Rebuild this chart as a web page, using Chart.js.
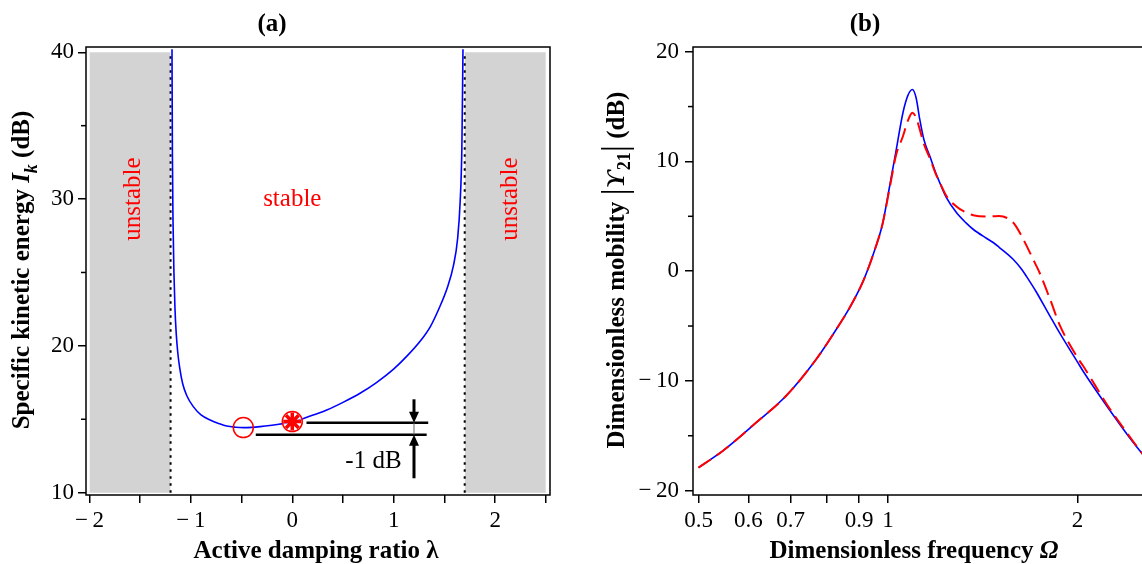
<!DOCTYPE html>
<html>
<head>
<meta charset="utf-8">
<script src="https://cdn.jsdelivr.net/npm/chart.js@4.4.1/dist/chart.umd.min.js"></script>
<style>
html, body { margin: 0; padding: 0; background: #fff; overflow: hidden; }
#wrap { position: relative; width: 1142px; height: 564px; overflow: hidden; }
#boxA { position: absolute; left: 0; top: 0; width: 580px; height: 564px; }
#boxB { position: absolute; left: 580px; top: 0; width: 566px; height: 564px; }
</style>
</head>
<body>
<div id="wrap">
  <div id="boxA"><canvas id="chartA"></canvas></div>
  <div id="boxB"><canvas id="chartB"></canvas></div>
</div>
<script>
const SERIF = '"Liberation Serif", "DejaVu Serif", serif';

// (a) specific kinetic energy vs active damping ratio
const lambdaVals = [-1.186, -1.182, -1.176, -1.167, -1.157, -1.145, -1.13, -1.11, -1.08, -1.04,
  -0.976, -0.9, -0.81, -0.72, -0.647, -0.56, -0.483, -0.40, -0.318, -0.15,
  0.01, 0.17, 0.34, 0.5, 0.668, 0.83, 0.996, 1.13, 1.27, 1.36,
  1.45, 1.53, 1.59, 1.63, 1.655, 1.672, 1.683];
const energyDb = [40.2, 33, 28.5, 25, 22.6, 20.9, 19.6, 18.5, 17.4, 16.6,
  15.86, 15.3, 14.95, 14.7, 14.54, 14.46, 14.43, 14.45, 14.5, 14.64,
  14.84, 15.2, 15.63, 16.15, 16.77, 17.5, 18.4, 19.3, 20.4, 21.3,
  22.6, 24.0, 25.5, 27.3, 29.8, 33.5, 40.2];
const asymptotes = [-1.2, 1.7];
const unstableBands = [[-2, -1.2], [1.7, 2.5]];
const bandDb = [10, 40];
const minPoint = [-0.483, 14.43];
const passivePoint = [0, 14.84];
const refLines = [[0.14, 1.34, 14.77], [-0.36, 1.325, 13.95]];
const arrowX = 1.2;
const arrowDown = [16.36, 14.77];
const arrowUp = [10.98, 13.95];
const lambdaTicks = [-2, -1.5, -1, -0.5, 0, 0.5, 1, 1.5, 2, 2.5];
const energyTicks = [10, 15, 20, 25, 30, 35, 40];

// (b) dimensionless mobility vs frequency
const omega = [0.5, 0.547, 0.618, 0.689, 0.769, 0.818, 0.869, 0.913, 0.953, 0.98,
  1.006, 1.03, 1.056, 1.075, 1.093, 1.108, 1.123, 1.14, 1.165, 1.19,
  1.208, 1.238, 1.284, 1.33, 1.365, 1.433, 1.469, 1.5, 1.58, 1.63,
  1.66, 1.72, 1.74, 1.807, 1.876, 2.016, 2.04, 2.224, 2.45, 2.54];
const mobilityBlue = [-17.9, -16.36, -13.78, -11.36, -8.03, -5.75, -3.33, -0.91, 1.97, 4.3,
  7.76, 11.0, 14.44, 16.0, 16.55, 15.8, 13.83, 12.0, 10.49, 9.0,
  8.07, 6.7, 5.34, 4.4, 3.82, 3.0, 2.61, 2.2, 1.09, 0.18,
  -0.5, -1.9, -2.4, -4.07, -5.7, -8.62, -9.1, -12.26, -15.59, -16.7];
const mobilityRed = [-17.9, -16.36, -13.78, -11.36, -8.03, -5.75, -3.33, -0.91, 1.97, 4.3,
  7.6, 10.6, 12.3, 13.7, 14.44, 14.0, 12.92, 11.6, 10.3, 8.9,
  8.1, 6.85, 5.9, 5.34, 5.1, 4.98, 5.0, 5.03, 4.43, 3.2,
  2.3, 0.48, -0.12, -2.5, -4.98, -8.2, -8.62, -12.1, -15.5, -16.7];
const omegaTicks = [0.5, 0.6, 0.7, 0.8, 0.9, 1, 2];
const omegaTickLabels = ['0.5', '0.6', '0.7', '', '0.9', '1', '2'];
const mobilityTicks = [-20, -15, -10, -5, 0, 5, 10, 15, 20];

function fmt(v) {
    return v < 0 ? '\u2212\u2009' + Math.abs(v) : String(v);
}

function richText(ctx, parts, x, y, rotate) {
    ctx.save();
    ctx.translate(x, y);
    if (rotate) ctx.rotate(-Math.PI / 2);
    ctx.textBaseline = 'alphabetic';
    ctx.textAlign = 'left';
    ctx.fillStyle = '#000';
    let w = 0;
    parts.forEach(p => { ctx.font = p.font; w += ctx.measureText(p.text).width; });
    let cx = -w / 2;
    parts.forEach(p => {
        ctx.font = p.font;
        ctx.fillText(p.text, cx, p.dy || 0);
        cx += ctx.measureText(p.text).width;
    });
    ctx.restore();
}

function pts(xs, ys) {
    return xs.map((x, i) => ({x: x, y: ys[i]}));
}

const B25 = 'bold 25px ' + SERIF;
const BI25 = 'bold italic 25px ' + SERIF;

const frameA = {
    id: 'frameA',
    afterDraw(chart) {
        const ctx = chart.ctx, a = chart.chartArea;
        const x = chart.scales.x, y = chart.scales.y;
        ctx.save();
        // minor ticks on y
        ctx.strokeStyle = '#000';
        ctx.lineWidth = 1.5;
        energyTicks.filter(v => v % 10 !== 0).forEach(v => {
            const py = y.getPixelForValue(v);
            ctx.beginPath(); ctx.moveTo(a.left - 5, py); ctx.lineTo(a.left, py); ctx.stroke();
        });
        ctx.strokeRect(a.left, a.top, a.right - a.left, a.bottom - a.top);

        // arrows
        const px = x.getPixelForValue(arrowX);
        [arrowDown, arrowUp].forEach(ar => {
            const p0 = y.getPixelForValue(ar[0]), p1 = y.getPixelForValue(ar[1]);
            const dir = Math.sign(p1 - p0);
            ctx.lineWidth = 3;
            ctx.beginPath(); ctx.moveTo(px, p0); ctx.lineTo(px, p1 - dir * 9); ctx.stroke();
            ctx.fillStyle = '#000';
            ctx.beginPath(); ctx.moveTo(px, p1); ctx.lineTo(px - 5, p1 - dir * 11); ctx.lineTo(px + 5, p1 - dir * 11);
            ctx.closePath(); ctx.fill();
        });
        ctx.lineWidth = 1;
        ctx.strokeStyle = '#666';
        ctx.beginPath();
        ctx.moveTo(px, y.getPixelForValue(arrowUp[1]));
        ctx.lineTo(px, y.getPixelForValue(arrowDown[1]));
        ctx.stroke();

        // texts
        ctx.fillStyle = '#000';
        ctx.font = '25px ' + SERIF;
        ctx.textAlign = 'center';
        ctx.textBaseline = 'middle';
        ctx.fillText('-1 dB', x.getPixelForValue(0.8), y.getPixelForValue(12.16));
        ctx.fillStyle = '#ff0000';
        ctx.fillText('stable', x.getPixelForValue(0), y.getPixelForValue(30));
        [-1.57, 2.15].forEach(l => {
            ctx.save();
            ctx.translate(x.getPixelForValue(l), y.getPixelForValue(30));
            ctx.rotate(-Math.PI / 2);
            ctx.fillText('unstable', 0, 0);
            ctx.restore();
        });

        // titles
        ctx.fillStyle = '#000';
        ctx.font = B25;
        ctx.fillText('(a)', 272, 25);
        richText(ctx, [{text: 'Active damping ratio \u03bb', font: B25}], 316, 558, false);
        richText(ctx, [
            {text: 'Specific kinetic energy ', font: B25},
            {text: 'I', font: BI25},
            {text: 'k', font: 'bold italic 18px ' + SERIF, dy: 8},
            {text: ' (dB)', font: B25}
        ], 29, 270, true);
        ctx.restore();
    }
};

const frameB = {
    id: 'frameB',
    afterDraw(chart) {
        const ctx = chart.ctx, a = chart.chartArea;
        const y = chart.scales.y;
        ctx.save();
        ctx.strokeStyle = '#000';
        ctx.lineWidth = 1.5;
        mobilityTicks.filter(v => v % 10 !== 0).forEach(v => {
            const py = y.getPixelForValue(v);
            ctx.beginPath(); ctx.moveTo(a.left - 5, py); ctx.lineTo(a.left, py); ctx.stroke();
        });
        ctx.strokeRect(a.left, a.top, a.right - a.left, a.bottom - a.top);

        ctx.fillStyle = '#000';
        ctx.font = B25;
        ctx.textAlign = 'center';
        ctx.textBaseline = 'middle';
        ctx.fillText('(b)', 285, 25);
        richText(ctx, [
            {text: 'Dimensionless frequency ', font: B25},
            {text: '\u03a9', font: BI25}
        ], 334, 558, false);
        richText(ctx, [
            {text: 'Dimensionless mobility ', font: B25},
            {text: '|', font: '36px ' + SERIF, dy: 2},
            {text: '\u03d2', font: BI25},
            {text: '21', font: 'bold 18px ' + SERIF, dy: 6},
            {text: '|', font: '36px ' + SERIF, dy: 2},
            {text: ' (dB)', font: B25}
        ], 44, 270, true);
        ctx.restore();
    }
};

const tickFont = {family: SERIF, size: 23};

new Chart(document.getElementById('chartA'), {
    type: 'line',
    data: {
        datasets: [
            {
                data: pts(lambdaVals, energyDb),
                borderColor: '#0000ff', borderWidth: 1.6, pointRadius: 0,
                cubicInterpolationMode: 'monotone', order: 2
            },
            {
                data: pts([minPoint[0]], [minPoint[1]]),
                showLine: false, pointStyle: 'circle', pointRadius: 10,
                pointBorderColor: '#ff0000', pointBackgroundColor: 'rgba(0,0,0,0)', pointBorderWidth: 1.5, order: 0
            },
            {
                data: pts([passivePoint[0]], [passivePoint[1]]),
                showLine: false, pointStyle: 'circle', pointRadius: 10,
                pointBorderColor: '#ff0000', pointBackgroundColor: 'rgba(255,255,255,0.6)', pointBorderWidth: 1.5, order: 1
            },
            {
                data: pts([passivePoint[0]], [passivePoint[1]]),
                showLine: false, pointStyle: 'star', pointRadius: 9,
                pointBorderColor: '#ff0000', pointBorderWidth: 3.5, order: 0
            },
            ...refLines.map(r => ({
                data: pts([r[0], r[1]], [r[2], r[2]]),
                borderColor: '#000', borderWidth: 2.5, pointRadius: 0, order: 1
            })),
            ...asymptotes.map(l => ({
                data: pts([l, l], bandDb),
                borderColor: '#000', borderWidth: 2, borderDash: [2.5, 4.5], pointRadius: 0, order: 3
            })),
            ...unstableBands.map(b => ({
                data: pts(b, [bandDb[1], bandDb[1]]),
                borderWidth: 0, pointRadius: 0, backgroundColor: '#d3d3d3',
                fill: {value: bandDb[0]}, order: 5
            }))
        ]
    },
    options: {
        responsive: true,
        maintainAspectRatio: false,
        animation: false,
        layout: {padding: {left: 0, right: 30, top: 47, bottom: 0}},
        plugins: {legend: {display: false}, tooltip: {enabled: false}},
        scales: {
            x: {
                type: 'linear', min: -2.034, max: 2.541,
                afterBuildTicks: s => { s.ticks = lambdaTicks.map(v => ({value: v})); },
                afterFit: s => { s.height = 69; },
                ticks: {
                    autoSkip: false, maxRotation: 0, color: '#000', font: tickFont, padding: 4,
                    callback: v => Number.isInteger(v) ? fmt(v) : ''
                },
                grid: {drawOnChartArea: false, tickLength: 8, color: '#000', lineWidth: 1.5},
                border: {display: false}
            },
            y: {
                type: 'linear', min: 9.84, max: 40.36,
                afterBuildTicks: s => { s.ticks = energyTicks.map(v => ({value: v})); },
                afterFit: s => { s.width = 86; },
                ticks: {
                    autoSkip: false, color: '#000', font: tickFont, padding: 4,
                    callback: v => v % 10 === 0 ? fmt(v) : ''
                },
                grid: {
                    drawOnChartArea: false, tickLength: 8, lineWidth: 1.5,
                    color: c => (c.tick && c.tick.value % 10 !== 0) ? 'rgba(0,0,0,0)' : '#000'
                },
                border: {display: false}
            }
        }
    },
    plugins: [frameA]
});

new Chart(document.getElementById('chartB'), {
    type: 'line',
    data: {
        datasets: [
            {
                data: pts(omega, mobilityRed),
                borderColor: '#ff0000', borderWidth: 2, borderDash: [15, 7], pointRadius: 0,
                cubicInterpolationMode: 'monotone', order: 0
            },
            {
                data: pts(omega, mobilityBlue),
                borderColor: '#0000ff', borderWidth: 1.6, pointRadius: 0,
                cubicInterpolationMode: 'monotone', order: 1
            }
        ]
    },
    options: {
        responsive: true,
        maintainAspectRatio: false,
        animation: false,
        layout: {padding: {left: 0, right: 2, top: 47, bottom: 0}},
        plugins: {legend: {display: false}, tooltip: {enabled: false}},
        scales: {
            x: {
                type: 'logarithmic', min: 0.49, max: 2.55,
                afterBuildTicks: s => { s.ticks = omegaTicks.map(v => ({value: v})); },
                afterFit: s => { s.height = 69; },
                ticks: {
                    autoSkip: false, maxRotation: 0, color: '#000', font: tickFont, padding: 4,
                    callback: (v, i) => omegaTickLabels[i]
                },
                grid: {drawOnChartArea: false, tickLength: 8, color: '#000', lineWidth: 1.5},
                border: {display: false}
            },
            y: {
                type: 'linear', min: -20.4, max: 20.43,
                afterBuildTicks: s => { s.ticks = mobilityTicks.map(v => ({value: v})); },
                afterFit: s => { s.width = 113; },
                ticks: {
                    autoSkip: false, color: '#000', font: tickFont, padding: 6,
                    callback: v => v % 10 === 0 ? fmt(v) : ''
                },
                grid: {
                    drawOnChartArea: false, tickLength: 8, lineWidth: 1.5,
                    color: c => (c.tick && c.tick.value % 10 !== 0) ? 'rgba(0,0,0,0)' : '#000'
                },
                border: {display: false}
            }
        }
    },
    plugins: [frameB]
});
</script>
</body>
</html>
